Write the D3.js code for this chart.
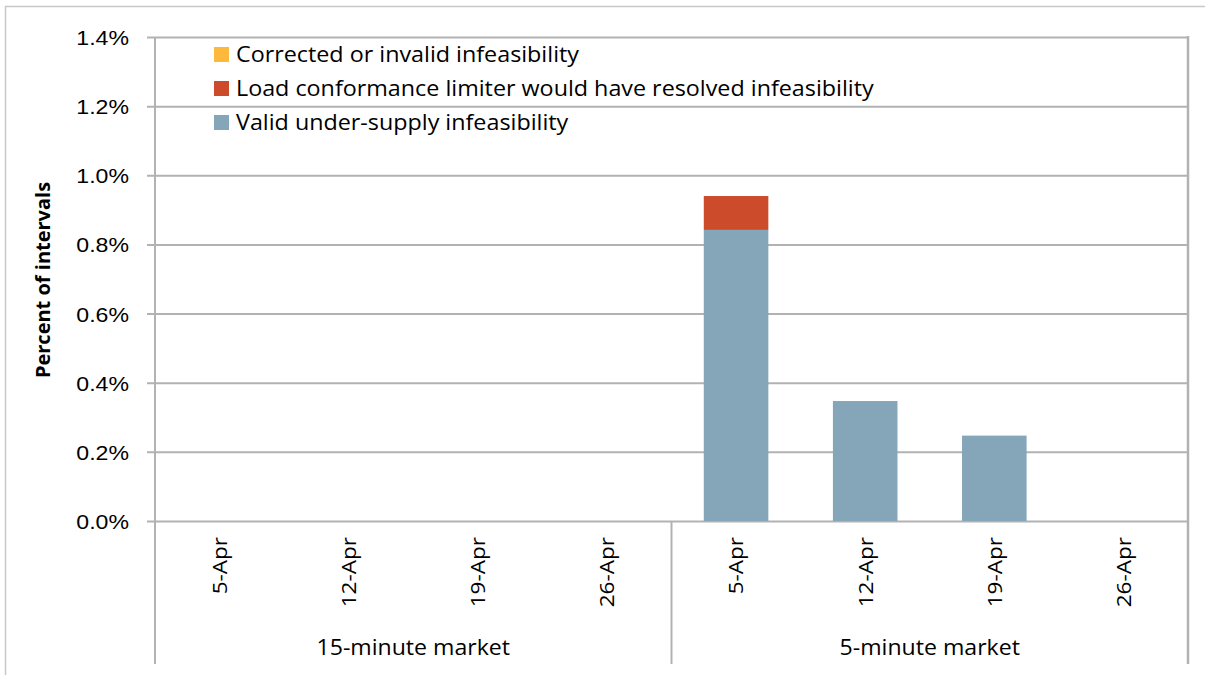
<!DOCTYPE html>
<html>
<head>
<meta charset="utf-8">
<script src="https://cdn.jsdelivr.net/npm/d3@7"></script>
<style>
  html, body { margin: 0; padding: 0; background: #fff; }
  svg { display: block; font-family: "Open Sans", sans-serif; }
</style>
</head>
<body>
<svg id="chart" width="1205" height="675"></svg>
<script>
// ---- data ----
const groups = ["15-minute market", "5-minute market"];
const weeks = ["5-Apr", "12-Apr", "19-Apr", "26-Apr"];
const seriesNames = ["Valid under-supply infeasibility", "Load conformance limiter would have resolved infeasibility", "Corrected or invalid infeasibility"];
const validUnderSupply = [0, 0, 0, 0, 0.842, 0.347, 0.247, 0];
const loadConformance = [0, 0, 0, 0, 0.098, 0, 0, 0];
const correctedInvalid = [0, 0, 0, 0, 0, 0, 0, 0];
const yTicks = [0, 0.2, 0.4, 0.6, 0.8, 1.0, 1.2, 1.4];
const colors = ["#84A6B8", "#CB4B2B", "#FDB93B"];

// ---- build table ----
const keys = ["valid", "lcl", "corr"];
const rows = [];
groups.forEach((g, gi) => weeks.forEach((w, wi) => {
  const i = gi * weeks.length + wi;
  rows.push({ id: i, group: g, week: w, valid: validUnderSupply[i], lcl: loadConformance[i], corr: correctedInvalid[i] });
}));
const stacked = d3.stack().keys(keys)(rows);

const svg = d3.select("#chart");
const L = 155, R = 1188, T = 37, B = 521, axisBottom = 664;
const SX = 1.1; // horizontal text stretch

svg.append("rect").attr("width", 1205).attr("height", 675).attr("fill", "#fff");
// outer chart border
svg.append("rect").attr("x", 5.5).attr("y", 6.5).attr("width", 1220).attr("height", 700)
  .attr("fill", "none").attr("stroke", "#C8C8C8").attr("stroke-width", 1.5);

const x = d3.scaleBand().domain(rows.map(d => d.id)).range([L, R]).paddingInner(0.5).paddingOuter(0.25);
const y = d3.scaleLinear().domain([0, 1.4]).range([B, T]);

// gridlines + ticks
const yAxis = d3.axisLeft(y).tickValues(yTicks).tickSize(0).tickPadding(0)
  .tickFormat(d => d3.format(".1f")(d) + "%");
const gy = svg.append("g").attr("transform", `translate(${R},0)`).call(yAxis);
gy.select(".domain").remove();
gy.selectAll(".tick line").attr("stroke", "#B2B2B2").attr("stroke-width", 2).attr("x1", 0).attr("x2", -(R - L) - 8);
gy.selectAll(".tick text").attr("x", 0).attr("text-anchor", "end").attr("dy", "0.36em")
  .attr("transform", `translate(${-(R - 129)},0) scale(${SX},1)`)
  .attr("font-size", 21).attr("fill", "#000");

// bars
const layer = svg.append("g").selectAll("g").data(stacked).join("g")
  .attr("fill", (d, i) => colors[i]);
layer.selectAll("rect").data(d => d.filter(s => s[1] - s[0] > 0)).join("rect")
  .attr("x", d => x(d.data.id))
  .attr("width", x.bandwidth())
  .attr("y", d => y(d[1]))
  .attr("height", d => y(d[0]) - y(d[1]));

// axis frame lines
const lineColor = "#B2B2B2";
svg.append("line").attr("x1", L).attr("x2", L).attr("y1", T).attr("y2", axisBottom).attr("stroke", lineColor).attr("stroke-width", 2);
svg.append("line").attr("x1", R).attr("x2", R).attr("y1", T - 1).attr("y2", axisBottom).attr("stroke", lineColor).attr("stroke-width", 2.5);
const groupStep = (R - L) / groups.length;
groups.forEach((g, gi) => {
  if (gi > 0) {
    const gx = L + gi * groupStep;
    svg.append("line").attr("x1", gx).attr("x2", gx).attr("y1", B).attr("y2", axisBottom).attr("stroke", lineColor).attr("stroke-width", 2);
  }
  svg.append("text").attr("transform", `translate(${L + (gi + 0.5) * groupStep},655) scale(${SX},1)`)
    .attr("text-anchor", "middle").attr("font-size", 21).attr("fill", "#000").text(g);
});

// category labels
svg.append("g").selectAll("text").data(rows).join("text")
  .attr("transform", d => `translate(${x(d.id) + x.bandwidth() / 2},537) rotate(-90) scale(${SX},1)`)
  .attr("text-anchor", "end").attr("dy", "0.36em")
  .attr("font-size", 20.5).attr("fill", "#000").text(d => d.week);

// y title
svg.append("text").attr("transform", "translate(43,280) rotate(-90)")
  .attr("text-anchor", "middle").attr("dy", "0.36em")
  .attr("font-size", 20).attr("font-weight", "bold").attr("fill", "#000").text("Percent of intervals");

// legend (top item is last series)
const legendItems = [2, 1, 0];
const lg = svg.append("g");
legendItems.forEach((si, r) => {
  const cy = 54.5 + r * 34;
  lg.append("rect").attr("x", 214).attr("y", cy - 7.5).attr("width", 15).attr("height", 15).attr("fill", colors[si]);
  lg.append("text").attr("transform", `translate(236,${cy}) scale(${SX},1)`).attr("dy", "0.36em")
    .attr("font-size", 21.2).attr("fill", "#000").text(seriesNames[si]);
});
</script>
</body>
</html>
